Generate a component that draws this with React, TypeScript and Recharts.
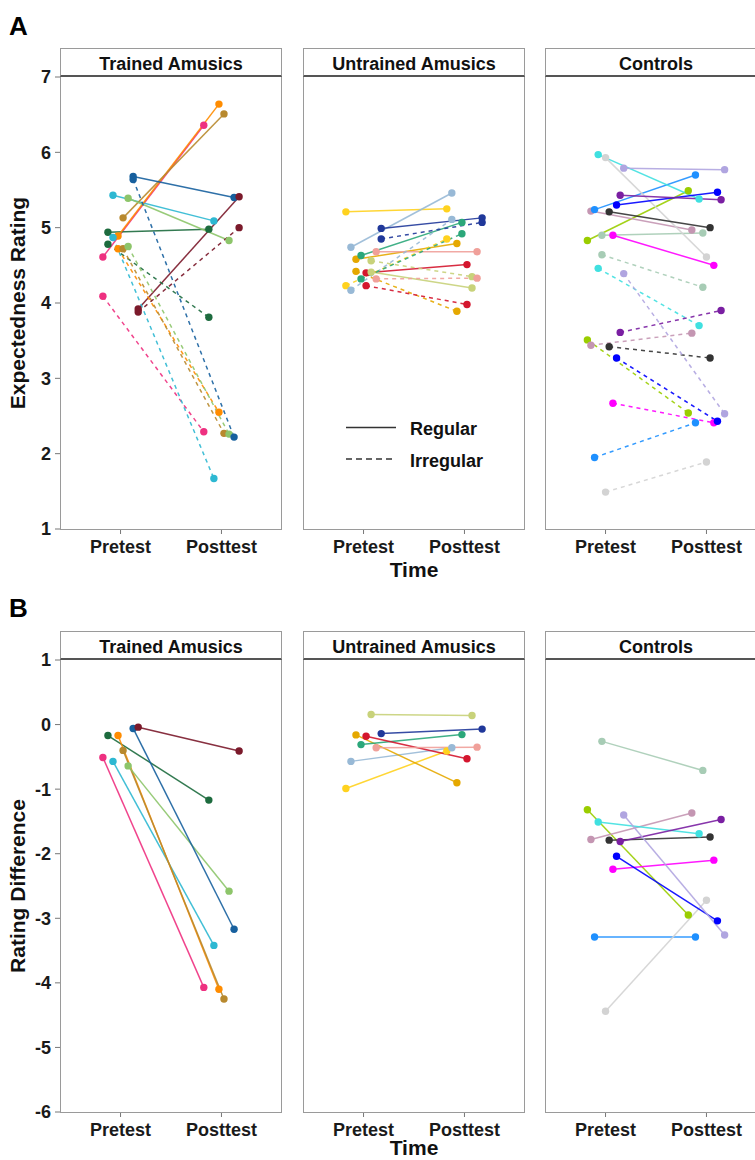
import React from 'react';
import { LineChart, Line, XAxis, YAxis, Legend } from 'recharts';

// ---------- shared labels ----------
const timeLabels = ['Pretest', 'Posttest'];
const groupTitles = ['Trained Amusics', 'Untrained Amusics', 'Controls'];
const ratingTicks = [1, 2, 3, 4, 5, 6, 7];
const diffTicks = [-6, -5, -4, -3, -2, -1, 0, 1];
const legendLabels = ['Regular', 'Irregular'];

// ---------- Trained Amusics (8 subjects) ----------
const trainedJitter = [-0.175, -0.125, -0.075, -0.025, 0.025, 0.075, 0.125, 0.175];
const trainedColors = ['#EE3080', '#1D6B3E', '#2DB8D2', '#FF8C00', '#B8892E', '#8DC56A', '#17609E', '#7B1A2B'];
const trainedRegPre = [4.61, 4.94, 5.43, 4.89, 5.13, 5.39, 5.68, 3.92];
const trainedRegPost = [6.36, 4.98, 5.09, 6.64, 6.51, 4.83, 5.40, 5.41];
const trainedIrrPre = [4.09, 4.78, 4.87, 4.72, 4.72, 4.75, 5.64, 3.88];
const trainedIrrPost = [2.29, 3.81, 1.67, 2.55, 2.27, 2.26, 2.22, 5.0];
const trainedDiffPre = [-0.51, -0.17, -0.57, -0.17, -0.4, -0.64, -0.06, -0.04];
const trainedDiffPost = [-4.07, -1.17, -3.42, -4.1, -4.25, -2.58, -3.17, -0.41];

// ---------- Untrained Amusics (8 subjects) ----------
const untrainedJitter = [-0.175, -0.125, -0.075, -0.025, 0.025, 0.075, 0.125, 0.175];
const untrainedColors = ['#FFD21F', '#98B9D6', '#E5A800', '#2BA77A', '#D4162E', '#C8D27A', '#F0A09A', '#20389A'];
const untrainedRegPre = [5.21, 4.74, 4.58, 4.63, 4.4, 4.41, 4.68, 4.99];
const untrainedRegPost = [5.25, 5.46, 4.79, 5.07, 4.51, 4.2, 4.68, 5.13];
const untrainedIrrPre = [4.23, 4.17, 4.42, 4.32, 4.23, 4.56, 4.32, 4.85];
const untrainedIrrPost = [4.85, 5.11, 3.89, 4.92, 3.98, 4.35, 4.33, 5.07];
const untrainedDiffPre = [-0.99, -0.57, -0.16, -0.31, -0.18, 0.155, -0.36, -0.14];
const untrainedDiffPost = [-0.41, -0.36, -0.9, -0.155, -0.53, 0.14, -0.35, -0.07];

// ---------- Controls (11 subjects) ----------
const controlJitter = [-0.18, -0.145, -0.109, -0.073, -0.036, 0, 0.036, 0.073, 0.109, 0.145, 0.18];
const controlColors = ['#9ACD00', '#C496B2', '#1E90FF', '#40E0E0', '#A7CCB5', '#D3D3D3', '#333333', '#FF00FF', '#0000FF', '#7A1FA2', '#B0A5E0'];
const controlRegPre = [4.83, 5.22, 5.24, 5.97, 4.9, 5.93, 5.21, 4.9, 5.3, 5.43, 5.79];
const controlRegPost = [5.49, 4.97, 5.7, 5.38, 4.93, 4.61, 5.0, 4.5, 5.47, 5.37, 5.77];
const controlIrrPre = [3.51, 3.44, 1.95, 4.46, 4.64, 1.49, 3.42, 2.67, 3.27, 3.61, 4.39];
const controlIrrPost = [2.54, 3.6, 2.41, 3.7, 4.21, 1.89, 3.27, 2.41, 2.43, 3.9, 2.53];
const controlDiffPre = [-1.32, -1.78, -3.29, -1.51, -0.26, -4.44, -1.79, -2.24, -2.04, -1.81, -1.4];
const controlDiffPost = [-2.95, -1.37, -3.29, -1.69, -0.71, -2.72, -1.74, -2.1, -3.04, -1.47, -3.26];

// ---------- layout ----------
const FONT = '"Liberation Sans", Arial, Helvetica, sans-serif';
const PW = 222;
const PH = 452;
const YW = 60;
const MT = 14;
const panelLefts = [60, 303, 545];
const rowTops = [77, 660];
const rowXH = [52, 46];
const timeOffsets = [4, 3];

type Series = { key: string; color: string; dashed: boolean; data: { x: number; y: number }[] };

function buildSeries(prefix: string, jitter: number[], colors: string[], pre: number[], post: number[], dashed: boolean): Series[] {
  return pre.map((v, i) => ({
    key: `${prefix}-${i}`,
    color: colors[i],
    dashed,
    data: [
      { x: 1 + jitter[i], y: v },
      { x: 2 + jitter[i], y: post[i] },
    ],
  }));
}

function LegendBox() {
  return (
    <svg width={180} height={70} style={{ overflow: 'visible' }}>
      <line x1={3} x2={53} y1={15.5} y2={15.5} stroke="#333" strokeWidth={1.4} />
      <text x={67} y={23} fontSize={18} fontWeight={700} fontFamily={FONT} fill="#111">{legendLabels[0]}</text>
      <line x1={3} x2={53} y1={47} y2={47} stroke="#333" strokeWidth={1.4} strokeDasharray="6 4" />
      <text x={67} y={55} fontSize={18} fontWeight={700} fontFamily={FONT} fill="#111">{legendLabels[1]}</text>
    </svg>
  );
}

type PanelProps = {
  col: number;
  row: number;
  series: Series[];
  yDomain: [number, number];
  yTicks: number[];
  yTitle: string;
  legend?: boolean;
};

function Panel({ col, row, series, yDomain, yTicks, yTitle, legend }: PanelProps) {
  const showY = col === 0;
  const left = panelLefts[col];
  const top = rowTops[row];
  const XH = rowXH[row];
  const chartLeft = showY ? left - YW : left;
  const tickStyle = { fontSize: 18, fontWeight: 700, fill: '#1a1a1a', fontFamily: FONT };
  return (
    <>
      <div
        style={{
          position: 'absolute',
          left,
          top: top - 29,
          width: PW,
          height: 29,
          boxSizing: 'border-box',
          border: '1px solid #9a9a9a',
          borderBottom: '2px solid #555',
          textAlign: 'center',
          fontFamily: FONT,
          fontWeight: 700,
          fontSize: 18,
          lineHeight: '20px',
          paddingTop: 5,
          color: '#111',
          background: '#fff',
        }}
      >
        {groupTitles[col]}
      </div>
      <div style={{ position: 'absolute', left: chartLeft, top: top - MT }}>
        <LineChart
          width={(showY ? YW : 0) + PW}
          height={PH + XH + MT}
          margin={{ top: MT, right: 0, bottom: 0, left: 0 }}
        >
          <XAxis
            type="number"
            dataKey="x"
            domain={[0.4, 2.6]}
            ticks={[1, 2]}
            allowDataOverflow
            interval={0}
            tickFormatter={(v: number) => (v === 1 ? timeLabels[0] : timeLabels[1])}
            axisLine={false}
            tickLine={{ stroke: '#777' }}
            tickSize={5}
            tickMargin={6}
            tick={tickStyle}
            height={XH}
            label={
              col === 1
                ? { value: 'Time', position: 'insideBottom', offset: timeOffsets[row], fontSize: 21, fontWeight: 700, fill: '#111', fontFamily: FONT }
                : undefined
            }
          />
          <YAxis
            type="number"
            domain={yDomain}
            ticks={yTicks}
            allowDataOverflow
            hide={!showY}
            width={YW}
            axisLine={false}
            tickLine={{ stroke: '#777' }}
            tickSize={5}
            tickMargin={4}
            tick={tickStyle}
            interval={0}
            label={{
              content: (p: any) => {
                const vb = p.viewBox || {};
                const x = (vb.x || 0) + 25;
                const y = (vb.y || 0) + (vb.height || 0) / 2;
                return (
                  <text
                    x={x}
                    y={y}
                    transform={`rotate(-90, ${x}, ${y})`}
                    textAnchor="middle"
                    fontSize={21}
                    fontWeight={700}
                    fontFamily={FONT}
                    fill="#111"
                  >
                    {yTitle}
                  </text>
                );
              },
            }}
          />
          {series.map((s) => (
            <Line
              key={s.key}
              data={s.data}
              dataKey="y"
              type="linear"
              stroke={s.color}
              strokeWidth={1.5}
              strokeOpacity={0.9}
              strokeDasharray={s.dashed ? '4 4' : undefined}
              dot={{ r: 3.7, fill: s.color, stroke: s.color, strokeWidth: 0, fillOpacity: 1, strokeDasharray: '' }}
              activeDot={false}
              isAnimationActive={false}
            />
          ))}
          {legend && (
            <Legend
              layout="horizontal"
              verticalAlign="middle"
              align="center"
              wrapperStyle={{ left: 40, top: 335 + MT, width: 180, height: 70 }}
              content={() => <LegendBox />}
            />
          )}
        </LineChart>
      </div>
      <div
        style={{
          position: 'absolute',
          left,
          top,
          width: PW,
          height: PH + 1,
          boxSizing: 'border-box',
          border: '1px solid #9a9a9a',
          borderTop: 'none',
          pointerEvents: 'none',
        }}
      />
    </>
  );
}

export default function App() {
  const topSeries = [
    [
      ...buildSeries('tr', trainedJitter, trainedColors, trainedRegPre, trainedRegPost, false),
      ...buildSeries('ti', trainedJitter, trainedColors, trainedIrrPre, trainedIrrPost, true),
    ],
    [
      ...buildSeries('ur', untrainedJitter, untrainedColors, untrainedRegPre, untrainedRegPost, false),
      ...buildSeries('ui', untrainedJitter, untrainedColors, untrainedIrrPre, untrainedIrrPost, true),
    ],
    [
      ...buildSeries('cr', controlJitter, controlColors, controlRegPre, controlRegPost, false),
      ...buildSeries('ci', controlJitter, controlColors, controlIrrPre, controlIrrPost, true),
    ],
  ];
  const bottomSeries = [
    buildSeries('td', trainedJitter, trainedColors, trainedDiffPre, trainedDiffPost, false),
    buildSeries('ud', untrainedJitter, untrainedColors, untrainedDiffPre, untrainedDiffPost, false),
    buildSeries('cd', controlJitter, controlColors, controlDiffPre, controlDiffPost, false),
  ];
  return (
    <div
      style={{
        position: 'absolute',
        left: 0,
        top: 0,
        width: 755,
        height: 1160,
        overflow: 'hidden',
        background: '#fff',
        fontFamily: FONT,
      }}
    >
      <div style={{ position: 'absolute', left: 9, top: 13, fontSize: 26, lineHeight: '26px', fontWeight: 700, color: '#000' }}>A</div>
      <div style={{ position: 'absolute', left: 9, top: 595, fontSize: 26, lineHeight: '26px', fontWeight: 700, color: '#000' }}>B</div>
      {[0, 1, 2].map((c) => (
        <Panel
          key={`t${c}`}
          col={c}
          row={0}
          series={topSeries[c]}
          yDomain={[1, 7]}
          yTicks={ratingTicks}
          yTitle="Expectedness Rating"
          legend={c === 1}
        />
      ))}
      {[0, 1, 2].map((c) => (
        <Panel
          key={`b${c}`}
          col={c}
          row={1}
          series={bottomSeries[c]}
          yDomain={[-6, 1]}
          yTicks={diffTicks}
          yTitle="Rating Difference"
        />
      ))}
    </div>
  );
}
